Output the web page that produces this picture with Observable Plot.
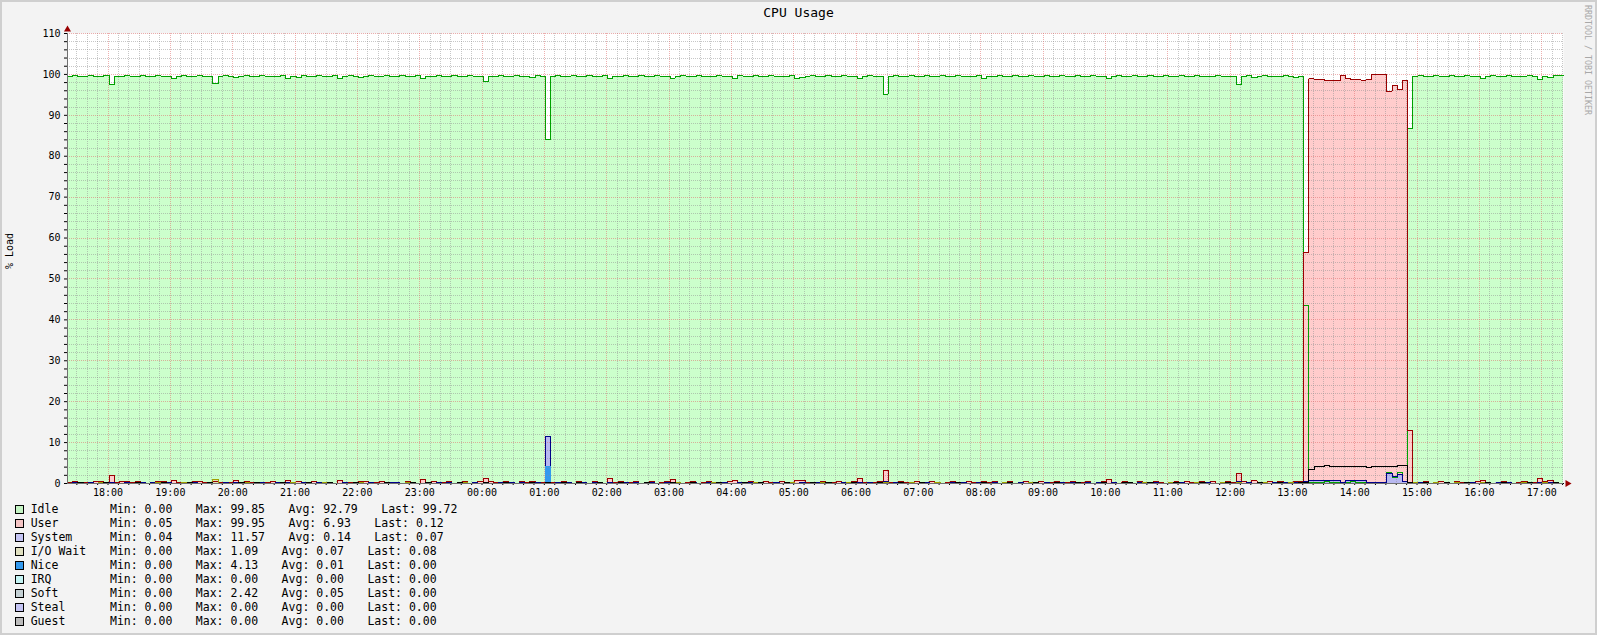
<!DOCTYPE html>
<html><head><meta charset="utf-8">
<script src="https://cdn.jsdelivr.net/npm/d3@7"></script>
<script src="https://cdn.jsdelivr.net/npm/@observablehq/plot@0.6"></script>
<style>
html,body{margin:0;padding:0;background:#f3f3f3;}
#wrap{position:relative;width:1597px;height:635px;background:#f3f3f3;overflow:hidden;font-family:"DejaVu Sans Mono",monospace;color:#000;}
#border{position:absolute;left:0;top:0;width:1597px;height:635px;box-sizing:border-box;border:2px solid #cfcfcf;pointer-events:none;}
#chart{position:absolute;left:0;top:0;}
.abs{position:absolute;white-space:pre;}
</style></head>
<body>
<div id="wrap">
  <div id="chart"></div>
  <div class="abs" id="title" style="left:0;width:1597px;top:5px;text-align:center;font-size:13px;line-height:16px;">CPU Usage</div>
  <div class="abs" style="left:10px;top:251px;font-size:10px;line-height:12px;transform:translate(-50%,-50%) rotate(-90deg);">% Load</div>
  <div class="abs" style="left:1588px;top:60px;font-size:8.3px;line-height:10px;color:#a8a8a8;transform:translate(-50%,-50%) rotate(90deg);">RRDTOOL / TOBI OETIKER</div>
  <div id="legend"></div>
  <div id="border"></div>
</div>
<script>
// ---- data: 5-minute samples starting 17:21 ----
const idle = [
99.6,99.7,99.5,99.6,99.7,99.4,99.6,99.7,97.6,99.6,99.5,99.7,
99.6,99.4,99.7,99.6,99.5,99.7,99.6,99.5,99.0,99.6,99.7,99.5,
99.6,99.7,99.4,99.6,97.8,99.6,99.7,99.5,99.2,99.6,99.7,99.6,
99.5,99.7,99.6,99.4,99.6,99.7,99.1,99.6,99.2,99.7,99.6,99.5,
99.7,99.6,99.5,99.7,99.0,99.6,99.7,99.6,99.2,99.5,99.7,99.6,
99.6,99.7,99.5,99.6,99.7,99.4,99.6,99.7,99.0,99.6,99.5,99.7,
99.6,99.5,99.7,99.6,99.4,99.7,99.6,99.5,98.3,99.4,99.6,99.7,
99.5,99.6,99.7,99.4,99.6,99.2,99.7,99.6,84.2,99.6,99.7,99.5,
99.6,99.7,99.5,99.6,99.7,99.4,99.6,99.7,99.0,99.6,99.5,99.7,
99.6,99.4,99.7,99.6,99.5,99.7,99.6,99.5,99.1,99.6,99.7,99.6,
99.5,99.7,99.6,99.4,99.6,99.7,99.6,99.5,99.1,99.7,99.6,99.5,
99.7,99.6,99.5,99.7,99.6,99.4,99.6,99.7,99.1,99.2,99.6,99.7,
99.6,99.5,99.7,99.6,99.4,99.7,99.6,99.5,99.0,99.6,99.7,99.6,
99.5,95.2,99.6,99.7,99.5,99.6,99.7,99.4,99.6,99.7,99.5,99.6,
99.7,99.6,99.5,99.7,99.6,99.4,99.6,99.7,99.0,99.6,99.5,99.7,
99.6,99.4,99.7,99.6,99.5,99.7,99.6,99.5,99.7,99.6,99.4,99.7,
99.6,99.5,99.7,99.6,99.4,99.7,99.6,99.5,99.0,99.6,99.7,99.5,
99.6,99.7,99.5,99.6,99.7,99.4,99.6,99.7,99.5,99.6,99.7,99.4,
99.6,99.7,99.5,99.6,99.4,99.7,99.6,99.5,99.6,97.6,99.5,99.7,
99.2,99.6,99.7,99.5,99.6,99.4,99.7,99.6,99.3,99.5,43.4,0.2,
0.3,0.2,0.4,0.3,0.2,0.0,0.3,0.4,0.2,0.3,0.3,0.0,
0.0,0.0,2.6,1.4,2.6,0.5,86.7,99.6,99.7,99.5,99.6,99.7,
99.6,99.4,99.7,99.6,99.5,99.7,99.6,99.5,99.1,99.6,99.7,99.6,
99.5,99.7,99.6,99.4,99.6,99.7,99.5,98.8,99.6,99.2,99.7,99.72
];
const user = [
0.2,0.5,0.1,0.3,0.2,0.4,0.5,0.1,2.0,0.3,0.5,0.4,
0.2,0.5,0.3,0.1,0.2,0.4,0.5,0.2,0.7,0.3,0.2,0.1,
0.4,0.5,0.2,0.3,0.6,0.2,0.1,0.3,0.8,0.2,0.4,0.3,
0.2,0.1,0.3,0.4,0.2,0.1,0.7,0.3,0.6,0.1,0.2,0.4,
0.1,0.3,0.2,0.1,0.8,0.3,0.2,0.3,0.6,0.4,0.1,0.2,
0.4,0.1,0.3,0.2,0.1,0.5,0.3,0.1,0.9,0.2,0.4,0.2,
0.3,0.4,0.1,0.2,0.5,0.1,0.3,0.4,1.3,0.5,0.2,0.1,
0.4,0.3,0.1,0.5,0.2,0.6,0.1,0.2,0.3,0.2,0.1,0.4,
0.2,0.1,0.4,0.3,0.1,0.5,0.2,0.1,1.3,0.3,0.4,0.1,
0.2,0.5,0.1,0.3,0.4,0.1,0.2,0.4,1.0,0.3,0.1,0.2,
0.4,0.1,0.3,0.5,0.2,0.1,0.3,0.4,0.7,0.1,0.3,0.4,
0.1,0.3,0.5,0.2,0.3,0.5,0.2,0.1,0.8,0.7,0.3,0.1,
0.2,0.4,0.1,0.3,0.5,0.1,0.2,0.4,1.2,0.3,0.1,0.2,
0.4,3.2,0.3,0.1,0.4,0.2,0.1,0.5,0.3,0.1,0.4,0.3,
0.1,0.2,0.4,0.1,0.3,0.5,0.2,0.1,0.6,0.3,0.4,0.1,
0.2,0.5,0.1,0.3,0.4,0.1,0.2,0.4,0.1,0.3,0.5,0.2,
0.3,0.4,0.1,0.2,0.5,0.1,0.3,0.4,1.0,0.2,0.1,0.4,
0.2,0.1,0.4,0.3,0.1,0.5,0.2,0.1,0.3,0.4,0.1,0.5,
0.2,0.1,0.4,0.3,0.5,0.1,0.2,0.4,0.3,2.5,0.4,0.1,
0.7,0.3,0.1,0.4,0.2,0.5,0.1,0.3,0.6,0.4,56.5,98.9,
98.7,98.8,98.4,98.5,98.4,99.7,98.9,98.7,98.8,98.6,98.8,99.9,
99.9,99.95,95.9,97.3,96.4,98.5,13.0,0.3,0.2,0.5,0.1,0.3,
0.4,0.2,0.1,0.5,0.3,0.1,0.2,0.4,0.8,0.3,0.1,0.2,
0.4,0.3,0.1,0.2,0.5,0.1,0.3,1.2,0.4,0.7,0.3,0.12
];
const system = [
0.1,0.3,0.1,0.1,0.2,0.1,0.1,0.3,0.2,0.1,0.1,0.2,
0.1,0.1,0.2,0.1,0.3,0.1,0.1,0.2,0.1,0.1,0.3,0.1,
0.2,0.1,0.1,0.3,0.1,0.1,0.2,0.1,0.3,0.1,0.2,0.1,
0.1,0.2,0.1,0.1,0.3,0.1,0.2,0.1,0.1,0.3,0.1,0.1,
0.2,0.1,0.3,0.1,0.1,0.2,0.1,0.1,0.3,0.1,0.2,0.1,
0.1,0.1,0.2,0.3,0.1,0.1,0.2,0.1,0.1,0.3,0.1,0.2,
0.1,0.3,0.1,0.1,0.2,0.1,0.3,0.1,0.2,0.1,0.1,0.2,
0.1,0.2,0.1,0.3,0.1,0.1,0.2,0.1,11.57,0.1,0.2,0.1,
0.2,0.1,0.1,0.3,0.1,0.2,0.1,0.1,0.3,0.1,0.1,0.2,
0.1,0.3,0.1,0.1,0.2,0.1,0.1,0.3,0.1,0.2,0.1,0.1,
0.3,0.1,0.1,0.2,0.1,0.1,0.3,0.1,0.1,0.2,0.1,0.3,
0.1,0.2,0.1,0.1,0.3,0.1,0.1,0.2,0.1,0.3,0.1,0.1,
0.2,0.1,0.3,0.1,0.1,0.2,0.1,0.1,0.3,0.1,0.2,0.1,
0.1,0.4,0.1,0.2,0.1,0.1,0.3,0.1,0.1,0.2,0.1,0.3,
0.1,0.1,0.2,0.1,0.3,0.1,0.1,0.2,0.1,0.1,0.3,0.1,
0.2,0.1,0.1,0.3,0.1,0.2,0.1,0.1,0.3,0.1,0.1,0.2,
0.1,0.3,0.1,0.1,0.2,0.1,0.3,0.1,0.1,0.2,0.1,0.1,
0.3,0.1,0.2,0.1,0.1,0.3,0.1,0.1,0.2,0.1,0.3,0.1,
0.1,0.2,0.1,0.3,0.1,0.1,0.2,0.1,0.1,0.4,0.1,0.2,
0.1,0.3,0.1,0.1,0.2,0.1,0.3,0.1,0.2,0.1,0.5,0.7,
0.7,0.8,0.7,0.7,0.7,0.2,0.7,0.8,0.7,0.7,0.2,0.2,
0.2,0.2,2.5,1.6,2.3,0.6,0.3,0.1,0.2,0.1,0.1,0.3,
0.1,0.2,0.1,0.3,0.1,0.1,0.2,0.1,0.3,0.1,0.1,0.2,
0.1,0.3,0.1,0.1,0.2,0.1,0.1,0.3,0.1,0.2,0.1,0.07
];
const iowait = [
0,0,0.1,0,0,0,0.2,0,0,0,0.1,0,
0,0.1,0,0,0,0.2,0,0,0,0.1,0.3,0,
0,0,0.1,0,1.09,0,0,0.1,0,0,0.2,0,
0.1,0,0,0,0.1,0,0,0.2,0,0,0,0.1,
0,0.3,0,0,0.1,0,0,0,0.2,0,0.1,0,
0,0,0.1,0,0,0.2,0,0,0.1,0,0,0.1,
0,0.1,0,0,0.2,0,0,0.1,0.3,0,0.1,0,
0.2,0,0,0.1,0,0,0.1,0,0.2,0,0,0.1,
0,0,0.2,0,0.1,0,0,0,0.1,0,0.2,0,
0.1,0,0,0.2,0,0,0.1,0,0,0.3,0,0,
0,0.1,0,0,0.2,0,0,0.1,0,0,0.1,0,
0.2,0,0.1,0,0,0.1,0,0.2,0,0,0,0.1,
0,0.2,0,0,0.1,0,0.3,0,0,0.1,0,0,
0.1,0.2,0,0.1,0,0,0.2,0,0.1,0,0,0.3,
0,0.1,0,0.2,0,0,0.1,0,0.3,0,0.1,0,
0.2,0,0,0.1,0,0.3,0,0,0.1,0,0.2,0,
0,0.1,0.3,0,0,0.1,0,0.2,0,0,0.1,0,
0.1,0,0,0.2,0,0.1,0,0,0.3,0,0,0.1,
0,0.2,0,0,0.1,0,0.3,0,0.1,0.2,0,0,
0.1,0,0.2,0,0,0.1,0,0.3,0,0,0.2,0,
0,0,0,0,0,0,0,0,0,0,0,0,
0,0,0,0,0,0,0.3,0.2,0,0.1,0,0.2,
0,0.1,0,0.3,0,0.1,0,0,0.2,0,0.1,0,
0.3,0,0.1,0,0.2,0,0.1,0,0.2,0.1,0,0.08
];
const nice = [
0,0,0,0,0,0,0,0,0,0,0,0, 0,0,0,0,0,0,0,0,0,0,0,0,
0,0,0,0,0,0,0,0,0,0,0,0, 0,0,0,0,0,0,0,0,0,0,0,0,
0,0,0,0,0,0,0,0,0,0,0,0, 0,0,0,0,0,0,0,0,0,0,0,0,
0,0,0,0,0,0,0,0,0,0,0,0, 0,0,0,0,0,0,0,0,4.13,0,0,0,
0,0,0,0,0,0,0,0,0,0,0,0, 0,0,0,0,0,0,0,0,0,0,0,0,
0,0,0,0,0,0,0,0,0,0,0,0, 0,0,0,0,0,0,0,0,0,0,0,0,
0,0,0,0,0,0,0,0,0,0,0,0, 0,0,0,0,0,0,0,0,0,0,0,0,
0,0,0,0,0,0,0,0,0,0,0,0, 0,0,0,0,0,0,0,0,0,0,0,0,
0,0,0,0,0,0,0,0,0,0,0,0, 0,0,0,0,0,0,0,0,0,0,0,0,
0,0,0,0,0,0,0,0,0,0,0,0, 0,0,0,0,0,0,0,0,0,0,0,0,
0,0,0,0,0,0,0,0,0,0,0,0, 0,0,0,0,0,0,0,0,0,0,0,0,
0,0,0,0,0,0,0,0,0,0,0,0, 0,0,0,0,0,0,0,0,0,0,0,0
];
const soft = [
0.1,0,0.2,0.1,0,0.1,0,0.2,0.1,0,0.1,0,
0,0.2,0.1,0,0.1,0,0.2,0,0.1,0.1,0,0.2,
0.1,0,0.1,0.2,0,0.1,0,0.1,0,0.2,0.1,0,
0.2,0.1,0,0.1,0,0.2,0.1,0,0.1,0,0.2,0.1,
0,0.1,0.2,0,0.1,0,0.1,0.2,0,0.1,0,0.1,
0.1,0.2,0,0.1,0,0.1,0.2,0,0.1,0.2,0,0.1,
0,0.1,0.1,0.2,0,0.1,0,0.1,0.2,0,0.1,0,
0.2,0,0.1,0,0.1,0.2,0,0.1,0.3,0.1,0,0.2,
0.1,0,0.2,0.1,0,0.1,0.2,0,0.1,0,0.2,0.1,
0,0.1,0,0.2,0.1,0,0.1,0,0.2,0.1,0,0.1,
0.2,0,0.1,0,0.1,0.2,0,0.1,0,0.1,0.2,0,
0.1,0.2,0,0.1,0,0.1,0.2,0,0.1,0,0.1,0.2,
0,0.1,0.2,0,0.1,0,0.1,0.2,0,0.1,0,0.1,
0.2,0.1,0,0.1,0.2,0,0.1,0,0.2,0.1,0,0.1,
0.1,0,0.1,0.2,0,0.1,0,0.1,0.2,0,0.1,0,
0,0.2,0.1,0,0.1,0,0.2,0.1,0,0.1,0.2,0,
0.1,0,0.2,0.1,0,0.1,0,0.2,0.1,0,0.1,0.2,
0.2,0.1,0,0.1,0.2,0,0.1,0,0.1,0.2,0,0.1,
0,0.1,0.2,0,0.1,0.1,0,0.2,0.1,0,0.1,0,
0.1,0.2,0,0.1,0,0.2,0.1,0,0.1,0.2,0.2,3.4,
4.2,4.2,4.3,4.2,4.2,4.1,4.2,4.2,4.2,4.2,4.0,4.1,
4.2,4.2,4.1,4.2,4.3,4.3,0.3,0.1,0,0.2,0.1,0,
0.1,0.2,0,0.1,0,0.2,0.1,0,0.1,0.2,0,0.1,
0.2,0,0.1,0.1,0,0.2,0.1,0,0.1,0,0.2,0
];

// legend table
const legendNames = ["Idle","User","System","I/O Wait","Nice","IRQ","Soft","Steal","Guest"];
const legendColors = ["#c4f4c4","#f4c4c4","#c4c4f4","#e0e0c0","#3399ee","#c4f4f4","#c4d0d4","#c4c4f4","#bcbcbc"];
const statMin  = ["0.00","0.05","0.04","0.00","0.00","0.00","0.00","0.00","0.00"];
const statMax  = ["99.85","99.95","11.57","1.09","4.13","0.00","2.42","0.00","0.00"];
const statAvg  = ["92.79","6.93","0.14","0.07","0.01","0.00","0.05","0.00","0.00"];
const statLast = ["99.72","0.12","0.07","0.08","0.00","0.00","0.00","0.00","0.00"];

// ---- build table ----
const stepMs = 5 * 60000;
const t0 = Date.UTC(2024, 0, 1, 17, 21);
const n = idle.length;
const t1 = t0 + 24 * 3600000;
const rows = d3.range(n + 1).map(i => {
  const k = Math.min(i, n - 1);
  return {t: new Date(t0 + i * stepMs), idle: idle[k], user: user[k], system: system[k],
          iowait: iowait[k], nice: nice[k], soft: soft[k]};
});

const series = [
  {key: "idle",   fill: "#ccffcc", stroke: "#00a000"},
  {key: "user",   fill: "#ffcccc", stroke: "#990000"},
  {key: "system", fill: "#b8b8f0", stroke: "#000088"},
  {key: "iowait", fill: "#e0e0b0", stroke: "#a0a000"},
  {key: "nice",   fill: "#3399ee", stroke: "#3399ee"},
  {key: "soft",   fill: null,      stroke: "#000000"}
];

const minorX = d3.utcMinute.every(10).range(new Date(t0), new Date(t1));
const majorX = d3.utcHour.every(1).range(new Date(t0), new Date(t1));
const minorY = d3.range(0, 111, 2).filter(v => v % 10 !== 0);
const majorY = d3.range(0, 111, 10);

const marks = [Plot.frame({fill: "white", stroke: "none"})];
for (const s of series) {
  if (s.fill) marks.push(Plot.areaY(rows, {x: "t", y: s.key, curve: "step-after", fill: s.fill, shapeRendering: "crispEdges"}));
}
marks.push(
  Plot.ruleX(minorX.filter(d => d.getUTCMinutes() !== 0), {stroke: "#909090", strokeOpacity: 0.5, strokeDasharray: "1,1", shapeRendering: "crispEdges"}),
  Plot.ruleY(minorY, {stroke: "#909090", strokeOpacity: 0.5, strokeDasharray: "1,1", shapeRendering: "crispEdges"}),
  Plot.ruleX(majorX, {stroke: "#e07070", strokeOpacity: 0.55, strokeDasharray: "1,1", shapeRendering: "crispEdges"}),
  Plot.ruleY(majorY.filter(v => v > 0), {stroke: "#e07070", strokeOpacity: 0.55, strokeDasharray: "1,1", shapeRendering: "crispEdges"})
);
for (const s of series) {
  marks.push(Plot.lineY(rows, {x: "t", y: s.key, curve: "step-after", stroke: s.stroke, strokeWidth: 1, shapeRendering: "crispEdges"}));
}
marks.push(
  Plot.ruleY([0], {stroke: "#707070", strokeWidth: 1, shapeRendering: "crispEdges"}),
  Plot.ruleX([new Date(t0)], {stroke: "#707070", strokeWidth: 1, shapeRendering: "crispEdges"}),
  Plot.dot([new Date(t0)], {x: d => d, y: [110], symbol: "triangle", r: 2.6, fill: "#990000", stroke: "none", dy: -4}),
  Plot.dot([new Date(t1)], {x: d => d, y: [0], symbol: "triangle", r: 2.6, fill: "#990000", stroke: "none", dx: 4, rotate: 90})
);

const chart = Plot.plot({
  width: 1597, height: 500,
  marginLeft: 67, marginRight: 34, marginTop: 33, marginBottom: 17,
  style: {background: "transparent", fontFamily: "DejaVu Sans Mono", fontSize: "10px", color: "#000"},
  x: {type: "utc", domain: [new Date(t0), new Date(t1)], ticks: minorX, tickSize: 2, tickPadding: 3,
      tickFormat: d => d.getUTCMinutes() === 0 ? d3.utcFormat("%H:%M")(d) : "", label: null},
  y: {domain: [0, 110], ticks: d3.range(0, 111, 2), tickSize: 3, tickPadding: 4,
      tickFormat: d => d % 10 === 0 ? String(d) : "", label: null},
  marks
});
document.getElementById("chart").appendChild(chart);

// ---- legend ----
const legend = document.getElementById("legend");
const cw = 6.923, gap = 23.5;
legendNames.forEach((name, r) => {
  const top = 502 + 14 * r;
  const sq = document.createElement("div");
  sq.style.cssText = `position:absolute;left:15px;top:${top + 3}px;width:7px;height:7px;border:1px solid #000;background:${legendColors[r]};`;
  legend.appendChild(sq);
  const cols = [[name, 30.7]];
  let x = 110;
  const parts = ["Min: " + statMin[r], "Max: " + statMax[r], "Avg: " + statAvg[r], "Last: " + statLast[r]];
  parts.forEach(p => { cols.push([p, x]); x += p.length * cw + gap; });
  cols.forEach(([txt, left]) => {
    const s = document.createElement("div");
    s.className = "abs";
    s.style.cssText += `left:${left}px;top:${top}px;font-size:11.5px;line-height:14px;`;
    s.textContent = txt;
    legend.appendChild(s);
  });
});
</script>
</body></html>
